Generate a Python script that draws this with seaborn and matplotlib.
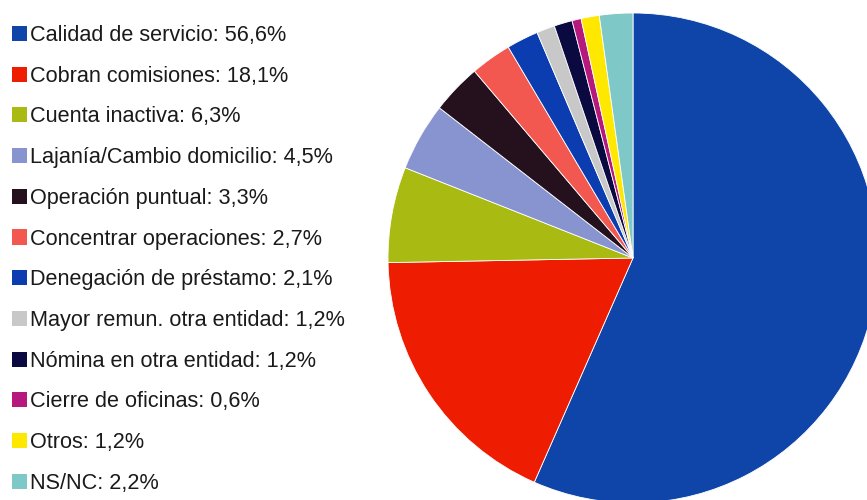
import matplotlib
matplotlib.use("Agg")
import matplotlib.pyplot as plt
import seaborn as sns

sns.set_theme(style="white")
plt.rcParams["font.family"] = ["Liberation Sans", "DejaVu Sans"]

categories = [
    "Calidad de servicio",
    "Cobran comisiones",
    "Cuenta inactiva",
    "Lajanía/Cambio domicilio",
    "Operación puntual",
    "Concentrar operaciones",
    "Denegación de préstamo",
    "Mayor remun. otra entidad",
    "Nómina en otra entidad",
    "Cierre de oficinas",
    "Otros",
    "NS/NC",
]
shares = [56.6, 18.1, 6.3, 4.5, 3.3, 2.7, 2.1, 1.2, 1.2, 0.6, 1.2, 2.2]
share_labels = ["56,6%", "18,1%", "6,3%", "4,5%", "3,3%", "2,7%",
                "2,1%", "1,2%", "1,2%", "0,6%", "1,2%", "2,2%"]
colors = ["#0F45A8", "#EE1C00", "#A9BA12", "#8894D0", "#25101E", "#F35850",
          "#0B3DB0", "#C8C8C8", "#0A0A40", "#B5197D", "#FFE800", "#7FC8C8"]

W, H = 867, 500
fig = plt.figure(figsize=(W / 100, H / 100), dpi=100)
ax = fig.add_axes([0, 0, 1, 1])

wedges, _ = ax.pie(
    shares,
    colors=colors,
    startangle=90,
    counterclock=False,
    center=(633, H - 258),
    radius=245,
    frame=True,
    wedgeprops=dict(edgecolor="white", linewidth=0.6),
)
ax.set_xlim(0, W)
ax.set_ylim(0, H)
ax.set_aspect("equal")
ax.axis("off")

labels = [f"{c}: {s}" for c, s in zip(categories, share_labels)]
leg = ax.legend(
    wedges, labels,
    loc="upper left",
    bbox_to_anchor=(12 / W, 1 - 25 / H),
    bbox_transform=fig.transFigure,
    frameon=False,
    fontsize=15.6,
    handlelength=0.69,
    handleheight=0.69,
    handletextpad=0.14,
    labelspacing=0.91,
    borderpad=0,
    borderaxespad=0,
)
for t in leg.get_texts():
    t.set_color("#1a1a1a")
for h in leg.legend_handles:
    h.set_edgecolor("none")

fig.savefig("out.png", dpi=100)
